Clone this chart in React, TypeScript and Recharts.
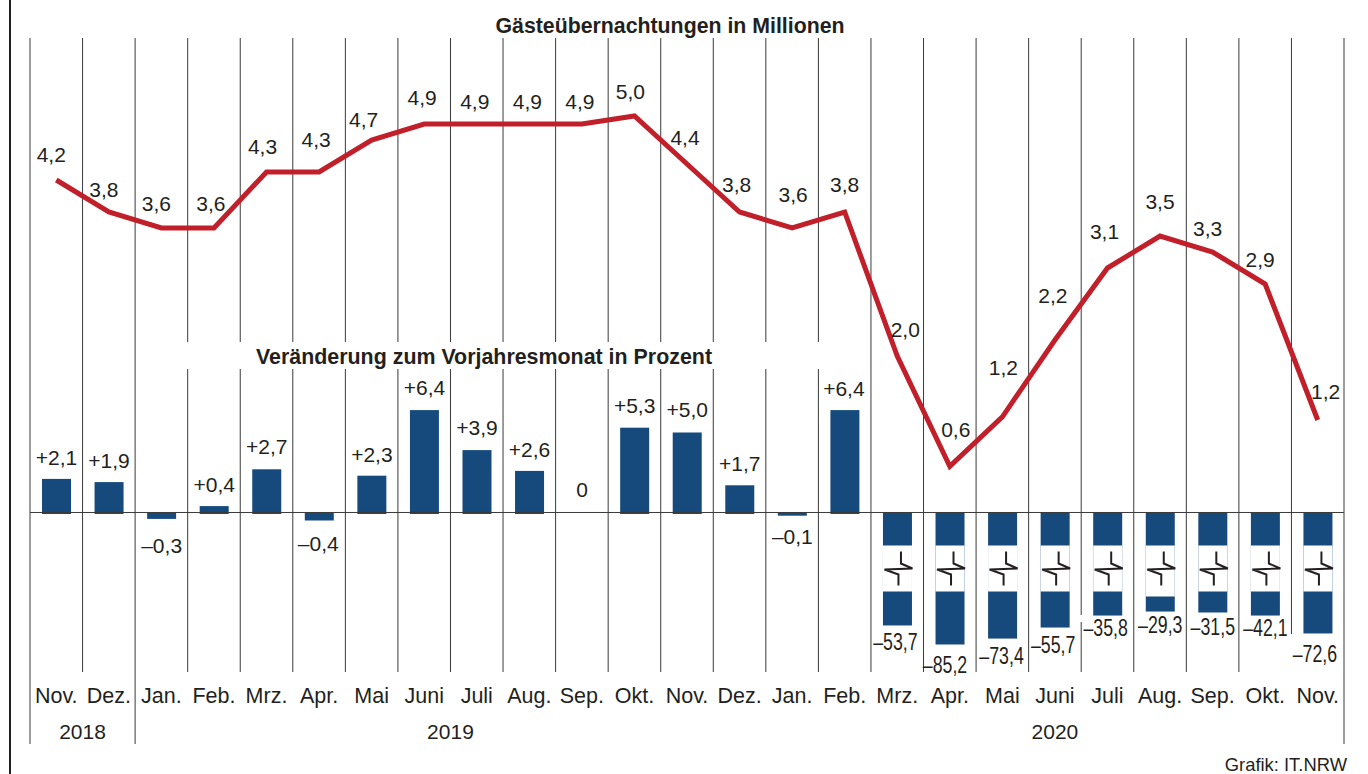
import {
  Bar,
  ComposedChart,
  LabelList,
  Line,
  ReferenceLine,
  XAxis,
  YAxis,
  usePlotArea,
} from "recharts";

const months = [
  "Nov.", "Dez.", "Jan.", "Feb.", "Mrz.", "Apr.", "Mai", "Juni", "Juli", "Aug.", "Sep.", "Okt.", "Nov.",
  "Dez.", "Jan.", "Feb.", "Mrz.", "Apr.", "Mai", "Juni", "Juli", "Aug.", "Sep.", "Okt.", "Nov.",
];

// Gästeübernachtungen in Millionen (labels are rounded, the line is not quite)
const overnightStays = [
  4.2, 3.8, 3.6, 3.6, 4.3, 4.3, 4.7, 4.9, 4.9, 4.9, 4.9, 5.0, 4.4, 3.8, 3.6, 3.8, 2.0, 0.62, 1.24, 2.2, 3.1, 3.5, 3.3,
  2.9, 1.2,
];

// Veränderung zum Vorjahresmonat in Prozent
const changePercent = [
  2.1, 1.9, -0.3, 0.4, 2.7, -0.4, 2.3, 6.4, 3.9, 2.6, 0, 5.3, 5.0, 1.7, -0.1, 6.4, -53.7, -85.2, -73.4, -55.7, -35.8,
  -29.3, -31.5, -42.1, -72.6,
];

const changeDrawn = [
  2.1, 1.9, -0.4, 0.4, 2.7, -0.5, 2.3, 6.4, 3.9, 2.6, 0, 5.3, 5.0, 1.7, -0.2, 6.4, -7.06, -8.25, -7.88, -7.19, -6.44,
  -6.19, -6.25, -6.44, -7.56,
];

const years = ["2018", "2019", "2020"];
const yearFirstMonth = [0, 2, 14];
const yearLastMonth = [2, 14, 25];

// label offsets from the point / bar end (styling only)
const stayLabelDx = [-5, -5, -5, -3, -4, -3, -8, -2, -2, -2, -2, -4, -2, -3, 1, 0, 8, 6, 1, -2, -3, 0, -5, -5, 8];
const stayLabelDy = [-25, -22, -24, -24, -25, -32, -20, -26, -22, -22, -22, -24, -26, -27, -33, -27, -26, -36, -49, -44, -36, -34, -23, -24, -28];
const changeLabelDy = [-21, -21, 27, -21, -22, 24, -21, -22, -22, -21, -22, -22, -22, -21, 21, -21, 16, 20, 16, 16, 11, 12, 14, 11, 20];
const changeLabelDx = [0, 0, 0, 0, 0, -1, 0, 0, 0, 0, 0, 0, 0, 0, 0, -1, -2, -5, -1, -2, -2, 0, 0, 0, -3];

const chartData = months.map((month, i) => ({
  key: i,
  month,
  stays: overnightStays[i],
  change: changePercent[i],
  drawn: changeDrawn[i],
}));

const TEXT = "#231f20";
const GRID = "#3a3a3a";
const FONT = '"Liberation Sans", Arial, sans-serif';

function formatChange(v: number) {
  const s = Math.abs(v).toFixed(1).replace(".", ",");
  if (v === 0) return "0";
  return (v > 0 ? "+" : "–") + s;
}

function GridLines() {
  const plot = usePlotArea();
  if (!plot) return null;
  const band = plot.width / months.length;
  const top = plot.y;
  const bottom = plot.y + plot.height;
  const lines = [];
  for (let i = 0; i <= months.length; i++) {
    const x = plot.x + i * band;
    const isYearEdge = i === 0 || i === 2 || i === 14 || i === 25;
    // white strip behind the second title
    if (i >= 3 && i <= 15) {
      lines.push([x, top, x, 342], [x, 369, x, bottom]);
    } else if (i === 24) {
      lines.push([x, top, x, 634]);
    } else if (i === 20) {
      lines.push([x, top, x, 615], [x, 622, x, bottom]);
    } else {
      lines.push([x, top, x, isYearEdge ? 744 : bottom]);
    }
  }
  return (
    <g>
      <line x1={10} y1={0} x2={10} y2={774} stroke="#231f20" strokeWidth={2} />
      {lines.map(([x1, y1, x2, y2], i) => (
        <line key={i} x1={x1} y1={y1} x2={x2} y2={y2} stroke={GRID} strokeWidth={1} />
      ))}
      {years.map((year, i) => (
        <text
          key={year}
          x={plot.x + ((yearFirstMonth[i] + yearLastMonth[i]) / 2) * band}
          y={739}
          textAnchor="middle"
          fontSize={21}
          fontFamily={FONT}
          fill={TEXT}
        >
          {year}
        </text>
      ))}
    </g>
  );
}

function CutBar(props: any) {
  const { x, y, width, height, index } = props;
  const top = Math.min(y, y + height);
  const h = Math.abs(height);
  const isCut = changePercent[index] < -20;
  const cx = x + width / 2;
  const gapStart = top + 33;
  const gapEnd = top + (index === 21 ? 84 : 79);
  if (h === 0) return null;
  return (
    <g>
      <rect x={x} y={top} width={width} height={h + (changePercent[index] > 0 ? 1.5 : 0)} fill="#174a7c" />
      {isCut && (
        <>
          <rect x={x} y={gapStart} width={width} height={gapEnd - gapStart} fill="#fff" />
          <polyline
            points={`${cx + 3.5},${top + 39} ${cx + 3.5},${top + 51} ${cx + 15},${top + 56} ${cx - 13},${top + 57} ${cx + 1},${top + 62} ${cx + 1},${top + 73}`}
            fill="none"
            stroke="#231f20"
            strokeWidth={2}
          />
        </>
      )}
    </g>
  );
}

function StayLabel(props: any) {
  const { x, y, index, value } = props;
  return (
    <text
      x={x + stayLabelDx[index]}
      y={y + stayLabelDy[index] + 7}
      textAnchor="middle"
      fontSize={21}
      fontFamily={FONT}
      fill={TEXT}
    >
      {Number(value).toFixed(1).replace(".", ",")}
    </text>
  );
}

function ChangeLabel(props: any) {
  const { x, y, width, height, index } = props;
  const value = changePercent[index];
  const cx = x + width / 2 + changeLabelDx[index];
  const end = value >= 0 ? Math.min(y, y + height) : Math.max(y, y + height);
  const isCut = value < -20;
  const base = end + changeLabelDy[index] + (isCut ? 9 : 7);
  return (
    <text
      transform={`translate(${cx},${base}) scale(${isCut ? 0.74 : 1},1)`}
      textAnchor="middle"
      fontSize={isCut ? 24 : 21}
      fontFamily={FONT}
      fill={TEXT}
    >
      {formatChange(value)}
    </text>
  );
}

export default function App() {
  return (
    <div style={{ position: "absolute", left: 0, top: 0, width: 1368, height: 774, background: "#fff" }}>
      <ComposedChart
        width={1368}
        height={774}
        data={chartData}
        margin={{ top: 38, right: 24, left: 30, bottom: 72 }}
      >
        <GridLines />
        <XAxis
          dataKey="key"
          height={30}
          axisLine={false}
          tickLine={false}
          interval={0}
          tickFormatter={(i: number) => months[i]}
          tick={{ fontSize: 21.5, fill: TEXT, fontFamily: FONT }}
          tickMargin={10}
        />
        <YAxis yAxisId="stays" hide domain={[-1.95, 5.975]} allowDataOverflow />
        <YAxis yAxisId="change" hide domain={[-9.969, 29.656]} allowDataOverflow />
        <Bar yAxisId="change" dataKey="drawn" barSize={29} shape={CutBar} isAnimationActive={false}>
          <LabelList dataKey="change" content={ChangeLabel} />
        </Bar>
        <ReferenceLine yAxisId="change" y={0} stroke={GRID} strokeWidth={1} />
        <Line
          yAxisId="stays"
          dataKey="stays"
          type="linear"
          stroke="#c1202b"
          strokeWidth={5}
          strokeLinejoin="miter"
          dot={false}
          activeDot={false}
          isAnimationActive={false}
        >
          <LabelList dataKey="stays" content={StayLabel} />
        </Line>
        <text x={670} y={33} textAnchor="middle" fontSize={21.3} fontWeight="bold" fontFamily={FONT} fill={TEXT}>
          Gästeübernachtungen in Millionen
        </text>
        <text x={484} y={364} textAnchor="middle" fontSize={21.4} fontWeight="bold" fontFamily={FONT} fill={TEXT}>
          Veränderung zum Vorjahresmonat in Prozent
        </text>
        <text x={1347} y={771} textAnchor="end" fontSize={18.4} fontFamily={FONT} fill={TEXT}>
          Grafik: IT.NRW
        </text>
      </ComposedChart>
    </div>
  );
}
